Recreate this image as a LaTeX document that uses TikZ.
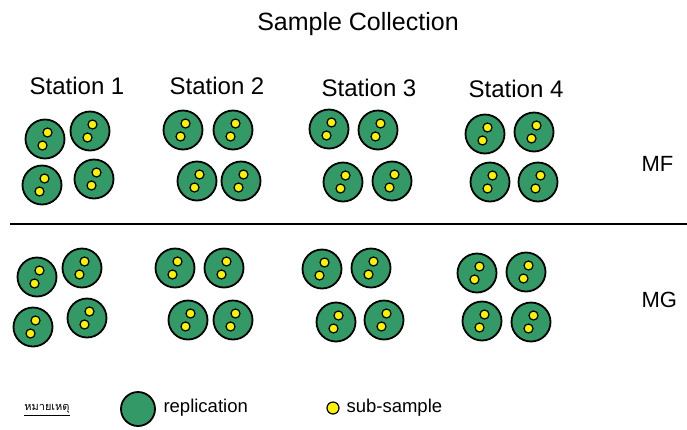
\documentclass[tikz,border=0pt]{standalone}
\usepackage{fontspec}
\setmainfont{Liberation Sans}
\newfontfamily\thaifont[Script=Thai]{Loma}
\definecolor{repgreen}{RGB}{51,153,102}
\tikzset{
  repl/.style={circle,draw=black,line width=1.8pt,fill=repgreen,minimum size=39pt,inner sep=0pt},
  subs/.style={circle,draw=black,line width=1.2pt,fill=yellow,minimum size=9pt,inner sep=0pt},
  lbl/.style={font=\fontsize{24}{28}\selectfont,anchor=base},
  grp/.style={font=\fontsize{22}{26}\selectfont,anchor=base west},
  leg/.style={font=\fontsize{18.5}{22}\selectfont,anchor=west},
  divider/.style={line width=1.5pt}
}
\begin{document}
\begin{tikzpicture}[x=1pt,y=-1pt]
\useasboundingbox (0,0) rectangle (687,429);
\foreach \n/\x/\y in {
  t11/45/139, t12/90/131, t13/42/185, t14/94/179,
  t21/183/130, t22/233/130, t23/197/181, t24/241/181,
  t31/329/129, t32/378/130, t33/343/182, t34/392/181,
  t41/485/134, t42/534/132, t43/490/182, t44/538/182,
  b11/37/277, b12/82/268, b13/33/327, b14/87/318,
  b21/175/268, b22/224/268, b23/188/320, b24/233/320,
  b31/322/269, b32/371/268, b33/336/322, b34/384/320,
  b41/477/273, b42/526/272, b43/482/321, b44/531/322}{
  \node[repl] (\n) at (\x,\y) {};
  \node[subs] (\n a) at ([shift={(2.5,-6.5)}]\n.center) {};
  \node[subs] (\n b) at ([shift={(-2.5,6.5)}]\n.center) {};
}
\node[lbl,font=\fontsize{25}{29}\selectfont] (title) at (358,30) {Sample Collection};
\node[lbl] (s1) at (77,94) {Station 1};
\node[lbl] (s2) at (217,94) {Station 2};
\node[lbl] (s3) at (369,96) {Station 3};
\node[lbl] (s4) at (516,97) {Station 4};
\node[grp] (mf) at (638,171) {MF};
\node[grp] (mg) at (638,307) {MG};
\coordinate (l0) at (10,224);
\coordinate (l1) at (687,224);
\draw[divider] (l0) -- (l1);
\node[font=\thaifont\fontsize{11}{13}\selectfont] (note) at (47,410) {\underline{หมายเหตุ}};
\node[repl,minimum size=34pt] (legrep) at (138,409) {};
\node[leg] (legreptxt) at (160,408) {replication};
\node[subs,minimum size=12pt] (legsub) at (333,408) {};
\node[leg] (legsubtxt) at (343,408) {sub-sample};
\end{tikzpicture}
\end{document}
